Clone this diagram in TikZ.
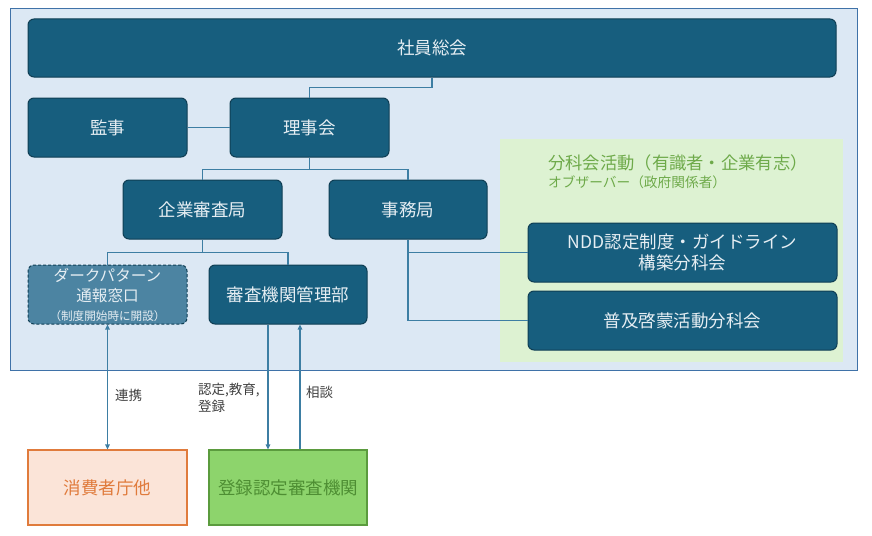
\documentclass[tikz,border=0pt]{standalone}
\usepackage{fontspec}
\setmainfont{Noto Sans CJK JP}
\usetikzlibrary{arrows.meta}
\definecolor{boxblue}{HTML}{175E7E}
\definecolor{boxedge}{HTML}{0F3E54}
\definecolor{bgblue}{HTML}{DCE8F4}
\definecolor{bgedge}{HTML}{3F72A8}
\definecolor{linkblue}{HTML}{3D7EA3}
\definecolor{dashfill}{HTML}{4C84A2}
\definecolor{greenbg}{HTML}{DDF2D2}
\definecolor{greentext}{HTML}{6EAA4A}
\definecolor{boxtext}{HTML}{E6EEF3}
\definecolor{peach}{HTML}{FBE4D8}
\definecolor{orangeedge}{HTML}{E07B3C}
\definecolor{greenbox}{HTML}{8DD46C}
\definecolor{greenedge}{HTML}{5B9B3E}
\definecolor{greenboxtext}{HTML}{4E8E33}
\tikzset{
  orgbox/.style={rounded corners=6pt, fill=boxblue, draw=boxedge, line width=1pt,
    text=boxtext, font=\fontsize{17.5}{21}\selectfont, inner sep=0pt, align=center,
    minimum width=159pt, minimum height=59pt},
  dashbox/.style={orgbox, fill=dashfill, draw=boxedge, dashed, dash pattern=on 3pt off 2pt},
  link/.style={draw=linkblue, line width=1.2pt},
  arr/.style={link, -{Triangle[length=5pt,width=4.5pt]}},
  biarr/.style={link, {Triangle[length=5pt,width=4.5pt]}-{Triangle[length=5pt,width=4.5pt]}},
  lbl/.style={font=\fontsize{13.5}{17}\selectfont, text=black!75, inner sep=0pt},
  extbox/.style={draw, line width=1.2pt, inner sep=0pt, font=\fontsize{17.5}{21}\selectfont,
    minimum width=159pt, minimum height=75pt}
}
\begin{document}
\begin{tikzpicture}[x=1pt,y=-1pt]
\useasboundingbox (0,0) rectangle (872,535);
% backgrounds
\draw[fill=bgblue, draw=bgedge, line width=1pt] (10,9) rectangle (857,370);
\fill[greenbg] (500,139) rectangle (843,362);
\node[anchor=west, text=greentext, font=\fontsize{17.3}{20}\selectfont, inner sep=0pt] (gtitle) at (548,163) {分科会活動（有識者・企業有志）};
\node[anchor=west, text=greentext, font=\fontsize{13.7}{16}\selectfont, inner sep=0pt] (gsub) at (548,182) {オブザーバー（政府関係者）};
% nodes
\node[orgbox, minimum width=808pt, minimum height=58pt] (soin) at (432,48) {社員総会};
\node[orgbox] (kanji) at (107.5,127.5) {監事};
\node[orgbox] (riji) at (309.5,127.5) {理事会};
\node[orgbox] (kigyo) at (202.5,209.5) {企業審査局};
\node[orgbox, minimum width=158pt] (jimu) at (408,209.5) {事務局};
\node[dashbox] (dark) at (107.5,294.5) {\fontsize{15.6}{19}\selectfont ダークパターン\\[-1pt]\fontsize{15.6}{19}\selectfont 通報窓口\\[-2pt]\fontsize{11.6}{13}\selectfont （制度開始時に開設）};
\node[orgbox, minimum width=158pt] (kanri) at (288,294.5) {審査機関管理部};
\node[orgbox, minimum width=309pt] (ndd) at (682.5,252.5) {NDD認定制度・ガイドライン\\構築分科会};
\node[orgbox, minimum width=309pt] (fukyu) at (682.5,320.5) {普及啓蒙活動分科会};
\node[extbox, draw=orangeedge, fill=peach, text=orangeedge] (shohi) at (107.5,487.5) {消費者庁他};
\node[extbox, draw=greenedge, fill=greenbox, text=greenboxtext, minimum width=158pt] (toroku) at (288,487.5) {登録認定審査機関};
% connectors
\draw[link] (soin.south) -- ++(0,10) -| (riji.north);
\draw[link] (kanji.east) -- (riji.west);
\draw[link] (riji.south) -- ++(0,12) coordinate (j1);
\draw[link] (kigyo.north) |- (j1) -| (jimu.north);
\draw[link] (kigyo.south) -- ++(0,13) coordinate (j2);
\draw[link] (dark.north) |- (j2) -| (kanri.north);
\draw[link] (jimu.south) |- (fukyu.west);
\draw[link] (jimu.south |- ndd.west) -- (ndd.west);
\draw[biarr] (dark.south) -- (shohi.north);
\draw[arr] ([xshift=-20pt]kanri.south) -- ([xshift=-20pt]toroku.north);
\draw[arr] ([xshift=12pt]toroku.north) -- ([xshift=12pt]kanri.south);
% labels
\node[lbl, anchor=west] (l1) at (115,395) {連携};
\node[lbl, anchor=north west, align=left] (l2) at (198,383) {認定,教育,\\登録};
\node[lbl, anchor=west] (l3) at (306,392) {相談};
\end{tikzpicture}
\end{document}
